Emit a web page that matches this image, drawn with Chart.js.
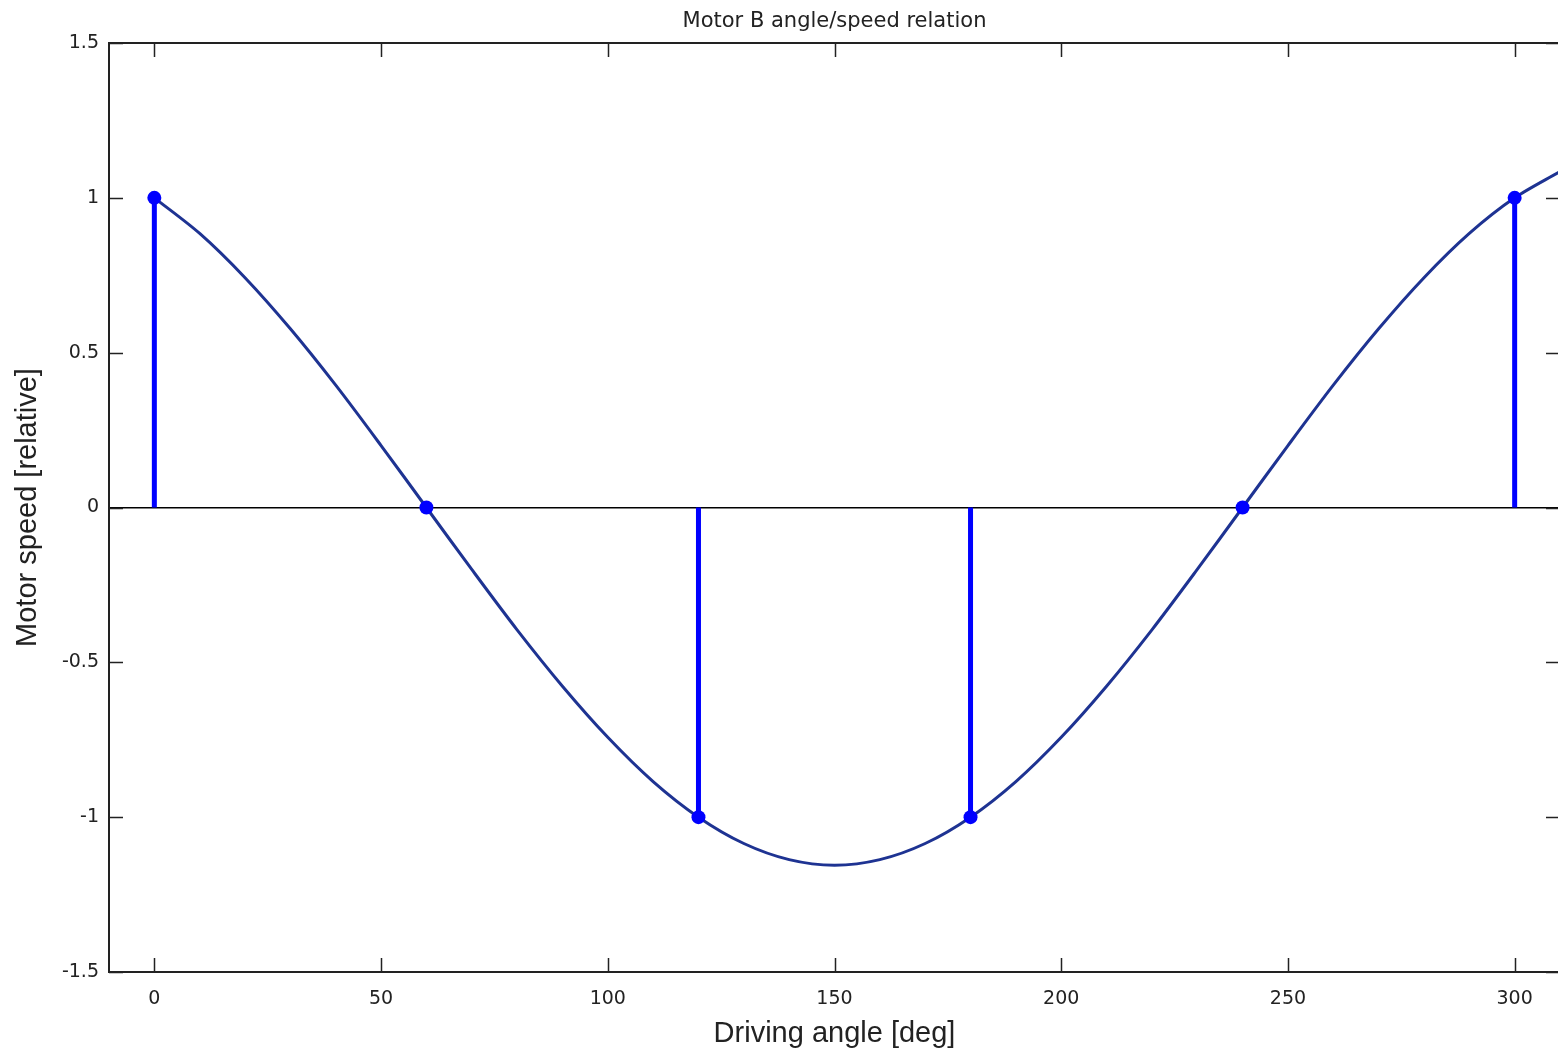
<!DOCTYPE html>
<html>
<head>
<meta charset="utf-8">
<script src="https://cdn.jsdelivr.net/npm/chart.js@4/dist/chart.umd.min.js"></script>
<style>
  html, body { margin: 0; padding: 0; background: #fff; overflow: hidden; }
  #wrap { width: 1567px; height: 1051px; }
</style>
</head>
<body>
<div id="wrap"><canvas id="chart"></canvas></div>
<script>
// curve every 10 deg
const curveAngle = [0, 10, 20, 30, 40, 50, 60, 70, 80, 90, 100, 110, 120, 130, 140, 150,
                    160, 170, 180, 190, 200, 210, 220, 230, 240, 250, 260, 270, 280, 290, 300, 310];
const curveSpeed = [1.0, 0.885, 0.742, 0.577, 0.395, 0.2, 0.0, -0.2, -0.395, -0.577, -0.742, -0.885, -1.0, -1.085, -1.137, -1.155,
                    -1.137, -1.085, -1.0, -0.885, -0.742, -0.577, -0.395, -0.2, 0.0, 0.2, 0.395, 0.577, 0.742, 0.885, 1.0, 1.085];

// sampled points (stems)
const stemAngle = [0, 60, 120, 180, 240, 300];
const stemSpeed = [1, 0, -1, -1, 0, 1];

const xTicks = [0, 50, 100, 150, 200, 250, 300];
const yTicks = [-1.5, -1, -0.5, 0, 0.5, 1, 1.5];

const stemBlue = '#0000ff';
const curveBlue = '#1e3392';

const stemSets = stemAngle.map((a, i) => ({
  label: 'stem ' + a,
  data: [{x: a, y: 0}, {x: a, y: stemSpeed[i]}],
  borderColor: stemBlue,
  backgroundColor: stemBlue,
  borderWidth: 5,
  pointRadius: [0, 7],
  pointBorderWidth: 0,
  order: 0
}));

// matlab style box with ticks pointing inwards
const boxPlugin = {
  id: 'box',
  afterDraw(chart) {
    const ctx = chart.ctx;
    const a = chart.chartArea;
    const x = chart.scales.x, y = chart.scales.y;
    const len = 14;
    ctx.save();
    ctx.strokeStyle = '#222';
    ctx.lineWidth = 1.5;
    ctx.beginPath();
    x.ticks.forEach(t => {
      const px = Math.round(x.getPixelForValue(t.value)) + 0.5;
      ctx.moveTo(px, a.bottom); ctx.lineTo(px, a.bottom - len);
      ctx.moveTo(px, a.top); ctx.lineTo(px, a.top + len);
    });
    y.ticks.forEach(t => {
      const py = Math.round(y.getPixelForValue(t.value)) + 0.5;
      ctx.moveTo(a.left, py); ctx.lineTo(a.left + len, py);
      ctx.moveTo(a.right, py); ctx.lineTo(a.right - len, py);
    });
    ctx.stroke();
    ctx.lineWidth = 2;
    ctx.strokeRect(a.left, a.top, a.right - a.left, a.bottom - a.top);
    ctx.restore();
  }
};

new Chart(document.getElementById('chart'), {
  type: 'line',
  data: {
    datasets: [
      ...stemSets,
      {
        label: 'speed',
        data: curveAngle.map((a, i) => ({x: a, y: curveSpeed[i]})),
        borderColor: curveBlue,
        borderWidth: 3,
        pointRadius: 0,
        tension: 0.3,
        order: 1
      }
    ]
  },
  options: {
    responsive: true,
    maintainAspectRatio: false,
    animation: false,
    layout: { padding: 0 },
    plugins: { legend: { display: false }, tooltip: { enabled: false } },
    scales: {
      x: {
        type: 'linear',
        position: 'bottom',
        min: -10, max: 310,
        afterBuildTicks: s => { s.ticks = xTicks.map(v => ({value: v})); },
        afterFit: s => { s.height = 79; },
        grid: { display: false },
        border: { display: false },
        ticks: { font: { family: 'DejaVu Sans', size: 19 }, color: '#222', padding: 8, maxRotation: 0,
                 callback: v => String(v) },
        title: { display: true, text: 'Driving angle [deg]', color: '#222',
                 font: { family: 'Liberation Sans', size: 29 }, padding: { top: 3, bottom: 0 } }
      },
      xTop: {
        type: 'linear',
        position: 'top',
        min: -10, max: 310,
        afterFit: s => { s.height = 43; },
        grid: { display: false },
        border: { display: false },
        ticks: { display: false },
        title: { display: true, text: 'Motor B angle/speed relation', color: '#222',
                 font: { family: 'DejaVu Sans', size: 21 }, padding: { top: 9, bottom: 0 } }
      },
      y: {
        type: 'linear',
        min: -1.5, max: 1.5,
        afterBuildTicks: s => { s.ticks = yTicks.map(v => ({value: v})); },
        afterFit: s => { s.width = 109; },
        grid: {
          drawTicks: false,
          color: c => (c.tick && c.tick.value === 0) ? '#000' : 'rgba(0,0,0,0)',
          lineWidth: 1.5
        },
        border: { display: false },
        ticks: { font: { family: 'DejaVu Sans', size: 19 }, color: '#222', padding: 10,
                 callback: v => String(v) },
        title: { display: true, text: 'Motor speed [relative]', color: '#222',
                 font: { family: 'Liberation Sans', size: 29 }, padding: { top: 11, bottom: 0 } }
      }
    }
  },
  plugins: [boxPlugin]
});
</script>
</body>
</html>
